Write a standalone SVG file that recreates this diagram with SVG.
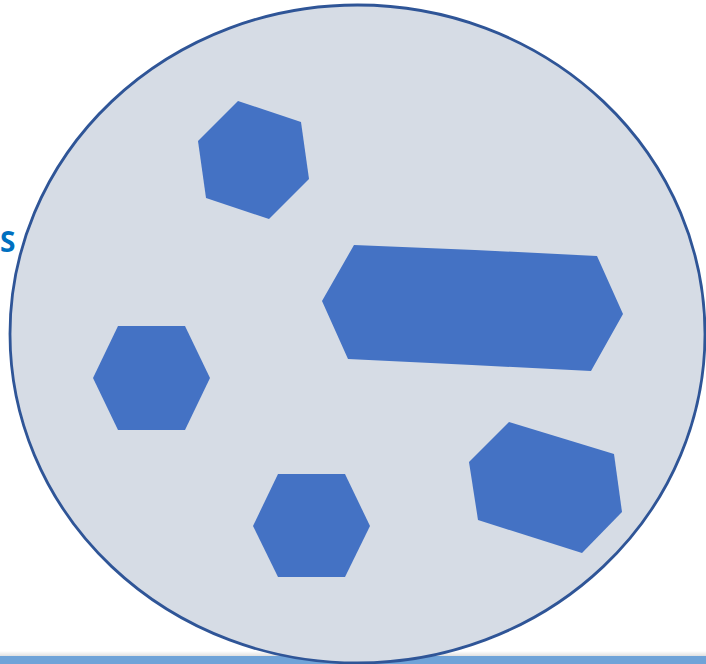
<svg xmlns="http://www.w3.org/2000/svg" width="706" height="664" viewBox="0 0 706 664">
<defs>
<style>
.hex{fill:#4472c4;stroke:none}
.lbl{font-family:"Open Sans","Liberation Sans",sans-serif;font-weight:bold;fill:#0070c0}
</style>
<linearGradient id="sh" x1="0" y1="0" x2="0" y2="1">
<stop offset="0" stop-color="#000" stop-opacity="0"/>
<stop offset="1" stop-color="#000" stop-opacity="0.12"/>
</linearGradient>
</defs>
<rect width="706" height="664" fill="#fff"/>
<rect x="0" y="651" width="706" height="5" fill="url(#sh)"/>
<rect x="0" y="656" width="706" height="8" fill="#6fa3d8"/>
<text class="lbl" x="0" y="252" font-size="28">S</text>
<g id="cell">
<ellipse cx="357.5" cy="334" rx="347.5" ry="329" fill="#d6dce5" stroke="#2f5597" stroke-width="2.8"/>
</g>
<g id="hex1"><polygon class="hex" points="238,101 301,122 309,179 269,219 206,198 198,141"/></g>
<g id="hex2"><polygon class="hex" points="118,326 185,326 210,378 185,430 118,430 93,378"/></g>
<g id="hex3"><polygon class="hex" points="278,474 345,474 370,526 345,577 278,577 253,526"/></g>
<g id="hex4"><polygon class="hex" points="509,422 614,454 622,512 582,553 478,520 469,462"/></g>
<g id="hex5"><polygon class="hex" points="354,245 475,250 597,256 623,314 591,371 472,365 348,359 322,301"/></g>
<g id="connectors"></g>
</svg>
